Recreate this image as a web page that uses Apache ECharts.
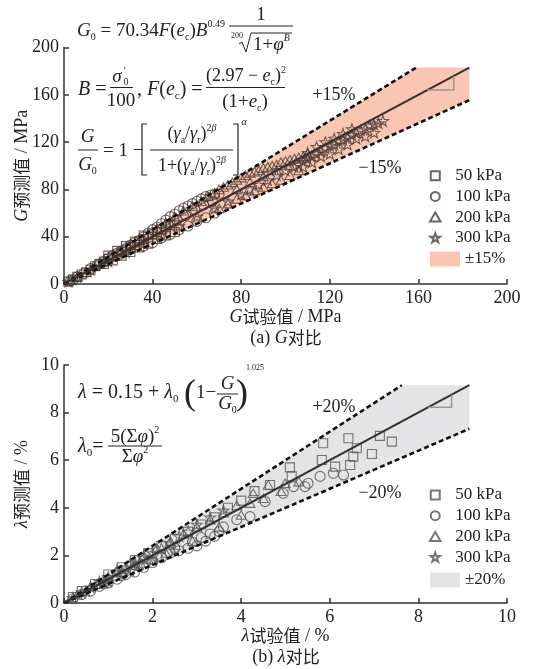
<!DOCTYPE html>
<html>
<head>
<meta charset="utf-8">
<script src="https://cdn.jsdelivr.net/npm/echarts@6/dist/echarts.min.js"></script>
<style>
  html, body { margin: 0; padding: 0; background: #fff; }
  #chartG { position: absolute; left: 0; top: 0; width: 537px; height: 348px; }
  #chartL { position: absolute; left: 0; top: 348px; width: 537px; height: 321px; }
</style>
</head>
<body>
<div id="chartG"></div>
<div id="chartL"></div>
<script>
// ---------- data: G (MPa), [measured, predicted] ----------
const g50 = [[2,2],[4,4],[6,6],[8,8],[10,10],[12,12],[14,15],[16,17],[18,19],[20,21],[22,23],[24,25],[26,27],[28,29],[30,31],[32,33],[34,36],[36,38],[38,40],[40,42],[42,44],[44,46],[46,48],[48,50],
  [50,44],[46,41],[42,38],[38,34],[34,31],[30,27],[26,24],[22,20],[18,17],[20,24],[24,28],[28,32],[32,36],[36,41]];
const g100 = [[3,3],[6,6],[9,9],[12,13],[15,16],[18,19],[20,22],[22,24],[24,26],[26,28],[28,30],[30,33],[32,35],[34,37],[36,40],[38,43],[40,46],[42,48],[44,51],[46,54],[48,57],[50,59],[52,62],[54,64],[56,66],[58,68],[60,70],[62,72],[64,74],[66,75],[68,76],[70,76],
  [68,60],[64,56],[60,53],[56,49],[52,46],[48,42],[44,39],[40,35],[36,32],[55,58],[59,63],[63,67],[67,70],[51,54],[47,50]];
const g200 = [[3,3],[6,6],[10,10],[14,15],[18,19],[22,24],[26,28],[30,33],[34,37],[38,42],[42,47],[46,52],[50,57],[54,62],[58,66],[62,70],[65,74],[68,77],[70,80],[72,82],[74,84],[76,86],[78,88],[80,90],[82,92],[84,94],[86,95],[88,96],[90,98],[92,99],[94,100],[96,101],[98,103],[100,104],[102,105],[104,106],[106,107],[108,108],[110,110],
  [106,96],[102,92],[98,88],[94,85],[90,82],[86,79],[82,75],[78,72],[74,68],[70,64],[84,86],[90,91],[96,96],[102,100],[78,80]];
const g300 = [[2,2],[6,6],[12,12],[20,19],[28,27],[36,34],[44,42],[52,49],[60,57],[68,64],[74,70],[80,76],[84,80],[88,84],[92,88],[96,92],[100,96],[104,99],[106,101],[108,104],[110,106],[112,108],[114,110],[116,112],[118,115],[120,117],[122,118],[124,121],[126,122],[128,124],[130,126],[132,128],[134,130],[136,131],[138,134],[140,135],[142,136],[144,138],
  [140,128],[136,125],[132,123],[128,118],[124,114],[120,110],[116,108],[112,103],[108,99],[130,131],[126,127],[122,123],[118,120],[114,116],[110,111]];

// reference lines and ±15 % band for G
const gLine = [[0,0],[183,183]];
const gUpper = [[0,0],[159,183]];
const gLower = [[0,0],[183,155.5]];
const gBand = [[0,0],[159,183],[183,183],[183,155.5]];
const gSlope = [[164,164],[176,164],[176,176]];
const gTicks = { min: 0, max: 200, step: 40 };

// ---------- data: damping ratio λ (%), [measured, predicted] ----------
const l50 = [[5.85,6.71],[6.42,6.92],[7.13,7.02],[7.40,6.78],[6.61,6.50],[5.82,6.01],[6.53,6.15],[6.95,6.26],[6.46,5.80],[6.12,5.73],[5.10,5.70],[5.14,5.32],[4.65,4.96],[4.3,4.7],[4.0,4.3],[3.7,4.0],[3.4,3.6],[3.1,3.3],[2.8,3.0],[2.5,2.7],[2.2,2.4],[1.9,2.1],[1.6,1.8],[1.3,1.5],[1.0,1.2],[0.7,0.8],[0.4,0.5],[0.2,0.25]];
const l100 = [[6.31,5.38],[6.08,5.45],[5.78,5.32],[5.51,5.03],[5.44,4.89],[5.18,4.89],[4.95,4.61],[4.54,4.26],[4.2,3.63],[3.9,3.5],[3.6,3.2],[3.4,2.8],[3.2,2.6],[3.0,2.4],[2.8,2.3],[2.6,2.2],[2.4,2.1],[2.2,1.9],[2.0,1.7],[1.8,1.5],[1.6,1.3],[1.4,1.2],[1.2,1.0],[1.0,0.85],[0.8,0.7],[0.6,0.5],[0.4,0.35],[0.2,0.18],
  [3.5,3.0],[3.3,2.9],[3.1,2.75],[2.9,2.55],[2.5,2.3],[2.1,1.95],[1.7,1.55],[1.3,1.15],[0.9,0.8]];
const l200 = [[4.27,4.61],[4.61,4.96],[4.99,5.03],[5.3,5.1],[4.9,4.7],[4.5,4.4],[4.2,4.2],[3.9,4.1],[3.6,3.8],[3.3,3.5],[3.0,3.2],[2.7,2.9],[2.4,2.6],[2.1,2.3],[1.8,2.0],[1.5,1.7],[1.2,1.4],[0.9,1.0],[0.6,0.7],[0.3,0.35],[4.0,3.7],[3.5,3.2],[2.9,2.6],[2.3,2.1],
  [1.9,1.85],[1.6,1.6],[1.3,1.3],[1.0,1.05],[0.75,0.8]];
const l300 = [[3.6,3.9],[3.3,3.6],[3.0,3.3],[2.8,3.0],[2.6,2.8],[2.4,2.5],[2.2,2.3],[2.0,2.1],[1.8,1.9],[1.6,1.7],[1.4,1.5],[1.2,1.3],[1.0,1.1],[0.8,0.9],[0.6,0.65],[0.4,0.45],[0.2,0.22],[2.5,2.2],[2.0,1.8],[1.5,1.35],[1.0,0.9],
  [1.7,1.65],[1.3,1.2],[0.9,0.85],[0.5,0.5]];

// reference lines and ±20 % band for λ
const lLine = [[0,0],[9.15,9.15]];
const lUpper = [[0,0],[7.625,9.15]];
const lLower = [[0,0],[9.15,7.32]];
const lBand = [[0,0],[7.625,9.15],[9.15,9.15],[9.15,7.32]];
const lSlope = [[8.22,8.22],[8.75,8.22],[8.75,8.75]];
const lTicks = { min: 0, max: 10, step: 2 };

const seriesNames = ['50 kPa', '100 kPa', '200 kPa', '300 kPa'];

// ---------- styling ----------
const SERIF = '"Liberation Serif","DejaVu Serif",serif';
const CJK = '"Noto Sans CJK SC","Noto Sans CJK JP",sans-serif';
const INK = '#222';
const SQUARE = 'path://M-5,-5 L5,-5 L5,5 L-5,5 Z';
const TRIANGLE = 'path://M0,-5.2 L5.6,4.4 L-5.6,4.4 Z';
const STAR = 'path://M0,-10 L2.35,-3.24 L9.51,-3.09 L3.8,1.24 L5.88,8.09 L0,4 L-5.88,8.09 L-3.8,1.24 L-9.51,-3.09 L-2.35,-3.24 Z';
const SYMBOLS = [SQUARE, 'circle', TRIANGLE, STAR];
const SIZES = [9, 10, 10, 11];

function richSet(f) {
  const sm = Math.round(f * 0.55);
  return {
    i:  { fontFamily: SERIF, fontStyle: 'italic', fontSize: f, lineHeight: f + 4, color: INK },
    n:  { fontFamily: SERIF, fontSize: f, lineHeight: f + 4, color: INK },
    s:  { fontFamily: SERIF, fontSize: sm, lineHeight: sm + 1, verticalAlign: 'bottom', color: INK },
    p:  { fontFamily: SERIF, fontSize: sm, lineHeight: sm + 1, verticalAlign: 'top', color: INK },
    pi: { fontFamily: SERIF, fontStyle: 'italic', fontSize: sm, lineHeight: sm + 1, verticalAlign: 'top', color: INK },
    c:  { fontFamily: CJK, fontSize: f - 1, lineHeight: f + 4, color: INK },
    ax: { fontFamily: SERIF, fontSize: f, lineHeight: f + 4, color: INK },
    axi:{ fontFamily: SERIF, fontStyle: 'italic', fontSize: f, lineHeight: f + 4, color: INK }
  };
}
const R18 = richSet(18);
const R19 = richSet(19);
const R20 = richSet(20);

function rt(x, y, text, rich, align) {
  return { type: 'text', x: x, y: y, silent: true,
    style: { text: text, rich: rich, align: align || 'left', verticalAlign: 'middle', fill: INK } };
}
function plain(x, y, text, size, align, italic) {
  return { type: 'text', x: x, y: y, silent: true,
    style: { text: text, fontFamily: SERIF, fontSize: size, fontStyle: italic ? 'italic' : 'normal',
      align: align || 'center', verticalAlign: 'middle', fill: INK } };
}
function seg(points, w) {
  return { type: 'polyline', silent: true, shape: { points: points },
    style: { stroke: INK, lineWidth: w || 1, fill: null } };
}

function axisCommon(t) {
  return {
    type: 'value', min: t.min, max: t.max, interval: t.step,
    axisLine: { lineStyle: { color: '#333', width: 1.5 } },
    axisTick: { inside: true, length: 5, lineStyle: { color: '#333', width: 1.5 } },
    axisLabel: { color: INK, fontFamily: SERIF, fontSize: 18, margin: 5 },
    splitLine: { show: false },
    nameLocation: 'middle',
    nameMoveOverlap: false,
    nameTextStyle: { rich: R18 }
  };
}

function buildOption(cfg) {
  const series = [];
  series.push({
    type: 'custom', name: cfg.bandName, z: 1, silent: true,
    itemStyle: { color: cfg.bandColor },
    data: [[0, 0]],
    renderItem: function (params, api) {
      return { type: 'polygon', shape: { points: cfg.band.map(function (p) { return api.coord(p); }) },
        style: { fill: cfg.bandColor } };
    }
  });
  cfg.data.forEach(function (d, k) {
    series.push({
      type: 'scatter', name: seriesNames[k], data: d, z: 2,
      symbol: SYMBOLS[k], symbolSize: SIZES[k], symbolKeepAspect: true,
      itemStyle: { color: 'rgba(0,0,0,0)', borderColor: cfg.markColor, borderWidth: 1.1 }
    });
  });
  const lineBase = { type: 'line', symbol: 'none', silent: true, z: 3, animation: false };
  series.push(Object.assign({}, lineBase, { data: cfg.upper, lineStyle: { color: '#111', width: 2.6, type: [5, 3] } }));
  series.push(Object.assign({}, lineBase, { data: cfg.lower, lineStyle: { color: '#111', width: 2.6, type: [5, 3] } }));
  series.push(Object.assign({}, lineBase, { data: cfg.line, lineStyle: { color: cfg.lineColor, width: 2 } }));
  series.push(Object.assign({}, lineBase, { data: cfg.slope, lineStyle: { color: '#999', width: 1.5 } }));

  const xa = axisCommon(cfg.ticks);
  xa.name = cfg.xName; xa.nameGap = 22;
  const ya = axisCommon(cfg.ticks);
  ya.name = cfg.yName; ya.nameGap = 31;

  const legendText = { color: INK, fontFamily: SERIF, fontSize: 17, lineHeight: 18 };
  return {
    animation: false,
    grid: Object.assign({ outerBoundsMode: 'none', containLabel: false }, cfg.grid),
    xAxis: xa,
    yAxis: ya,
    legend: [
      { data: seriesNames, orient: 'vertical', left: 424, top: cfg.legendTop,
        itemWidth: 30, itemHeight: 9, itemGap: 2.7, selectedMode: false, textStyle: legendText },
      { data: [{ name: cfg.bandName, icon: 'rect' }], orient: 'vertical', left: 425, top: cfg.bandLegendTop,
        itemWidth: 30, itemHeight: 15, selectedMode: false, textStyle: legendText }
    ],
    graphic: cfg.graphic,
    series: series
  };
}

// ---------- (a) shear modulus ----------
const graphicG = [
  // G0 = 70.34 F(ec) B^0.49 · 1 / (200th root of 1 + φ^B)
  rt(77, 31, '{i|G}{s|0}{n| = 70.34}{i|F}{n|(}{i|e}{s|c}{n|)}{i|B}{p|0.49}', R19),
  plain(261, 15, '1', 19),
  seg([[229, 26], [293, 26]], 1),
  plain(237, 36, '200', 8),
  seg([[239, 44], [242, 42], [246, 52], [251, 33], [292, 33]], 1),
  rt(253, 45, '{n|1+}{i|φ}{pi|B}', R19),
  // B = σ0'/100, F(ec) = (2.97 − ec)^2 / (1 + ec)
  rt(78, 90, '{i|B}{n| =}', R20),
  plain(117, 77, 'σ', 19, 'center', true),
  plain(125, 71, '′', 11, 'center'),
  plain(126, 82, '0', 10, 'center'),
  seg([[110, 87.5], [133, 87.5]], 1),
  plain(121, 101, '100', 19),
  rt(137, 90, '{n|, }{i|F}{n|(}{i|e}{s|c}{n|) =}', R20),
  rt(246, 76, '{n|(2.97 − }{i|e}{s|c}{n|)}{p|2}', R18, 'center'),
  seg([[206, 87.5], [285, 87.5]], 1),
  rt(245, 102, '{n|(1+}{i|e}{s|c}{n|)}', R19, 'center'),
  // G/G0 = 1 − [ (γa/γr)^2β / (1 + (γa/γr)^2β) ]^α
  plain(87.5, 137, 'G', 19, 'center', true),
  seg([[78, 150], [98, 150]], 1),
  rt(87.5, 165, '{i|G}{s|0}', R19, 'center'),
  rt(103, 151, '{n|= 1 −}', R19),
  seg([[147, 124], [142, 124], [142, 175], [147, 175]], 1.2),
  rt(192, 134, '{n|(}{i|γ}{s|a}{n|/}{i|γ}{s|r}{n|)}{p|2}{pi|β}', R18, 'center'),
  seg([[150, 150], [233, 150]], 1),
  rt(192, 166, '{n|1+(}{i|γ}{s|a}{n|/}{i|γ}{s|r}{n|)}{p|2}{pi|β}', R18, 'center'),
  seg([[233, 124], [238, 124], [238, 175], [233, 175]], 1.2),
  plain(244, 122, 'α', 10, 'center', true),
  // band labels and slope marker labels
  plain(334, 95, '+15%', 18),
  plain(380, 168, '−15%', 18),
  plain(463, 89, '1', 18),
  plain(439, 107, '1', 18),
  // caption
  rt(286, 338, '{ax|(a) }{axi|G}{c|对比}', R18, 'center')
];

const chartG = echarts.init(document.getElementById('chartG'), null, { renderer: 'canvas' });
chartG.setOption(buildOption({
  grid: { left: 64, top: 47.5, width: 443, height: 236.5 },
  ticks: gTicks,
  data: [g50, g100, g200, g300],
  band: gBand, upper: gUpper, lower: gLower, line: gLine, slope: gSlope,
  bandName: '±15%', bandColor: '#f8c6b2', markColor: '#4d3d36', lineColor: '#3a3030',
  xName: '{axi|G}{c|试验值}{ax| / MPa}',
  yName: '{axi|G}{c|预测值}{ax| / MPa}',
  legendTop: 161.7, bandLegendTop: 245,
  graphic: graphicG
}));

// ---------- (b) damping ratio ----------
const graphicL = [
  // λ = 0.15 + λ0 (1 − G/G0)^1.025
  rt(78, 45, '{i|λ}{n| = 0.15 + }{i|λ}{s|0}', R20),
  plain(190, 47, '(', 36, 'center'),
  rt(196, 45, '{n|1−}', R19),
  plain(227.5, 36, 'G', 19, 'center', true),
  seg([[217, 46], [238, 46]], 1),
  rt(227.5, 56, '{i|G}{s|0}', R19, 'center'),
  plain(242, 47, ')', 36, 'center'),
  plain(255, 20, '1.025', 8),
  // λ0 = 5(Σφ)^2 / Σφ^2
  rt(78, 99, '{i|λ}{s|0}{n|=}', R20),
  rt(135, 89, '{n|5(Σ}{i|φ}{n|)}{p|2}', R19, 'center'),
  seg([[108, 98], [162, 98]], 1),
  rt(135, 109, '{n|Σ}{i|φ}{p|2}', R19, 'center'),
  // band labels and slope marker labels
  plain(334, 59, '+20%', 18),
  plain(380, 145, '−20%', 18),
  plain(463, 60, '1', 18),
  plain(438, 78, '1', 18),
  // caption
  rt(286, 309, '{ax|(b) }{axi|λ}{c|对比}', R18, 'center')
];

const chartL = echarts.init(document.getElementById('chartL'), null, { renderer: 'canvas' });
chartL.setOption(buildOption({
  grid: { left: 64, top: 17, width: 443, height: 238 },
  ticks: lTicks,
  data: [l50, l100, l200, l300],
  band: lBand, upper: lUpper, lower: lLower, line: lLine, slope: lSlope,
  bandName: '±20%', bandColor: '#e4e4e6', markColor: '#555555', lineColor: '#333333',
  xName: '{axi|λ}{c|试验值}{ax| / %}',
  yName: '{axi|λ}{c|预测值}{ax| / %}',
  legendTop: 133, bandLegendTop: 218,
  graphic: graphicL
}));
</script>
</body>
</html>
